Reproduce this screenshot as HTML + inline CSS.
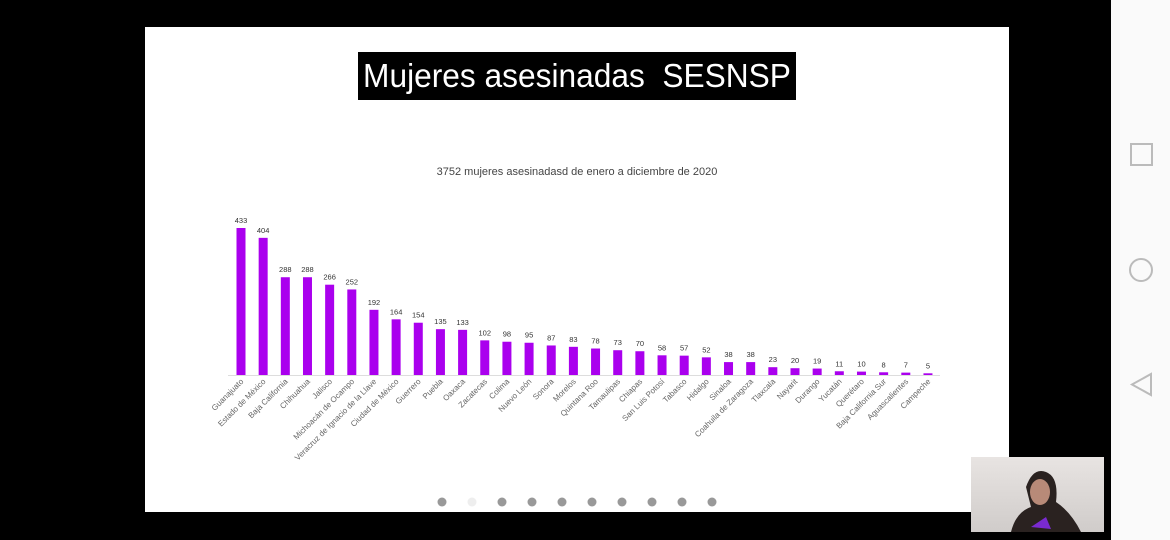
<!DOCTYPE html>
<html><head><meta charset="utf-8"><style>
html,body{margin:0;width:1170px;height:540px;overflow:hidden}
body{background:#000;position:relative;font-family:"Liberation Sans",sans-serif}
#slide{position:absolute;left:145px;top:27px;width:864px;height:485px;background:#fff}
#title{position:absolute;left:358px;top:52px;width:438px;height:48px;background:#000;color:#fff;font-size:33px;line-height:48px;white-space:nowrap}
#title span{position:absolute;left:50%;top:0;transform:translateX(-50%) scaleX(0.96);white-space:nowrap}
#nav{position:absolute;left:1111px;top:0;width:59px;height:540px;background:#fafafa}
#cam{position:absolute;left:971px;top:457px;width:133px;height:75px;background:linear-gradient(#e8e4e2,#d0ccca)}
</style></head><body>
<div id="slide"></div>
<div id="title"><span>Mujeres asesinadas &nbsp;SESNSP</span></div>
<svg id="chart" width="1170" height="540" style="position:absolute;left:0;top:0">
<text x="577" y="175" font-size="11" fill="#444" text-anchor="middle">3752 mujeres asesinadasd de enero a diciembre de 2020</text>
<line x1="228" y1="375.5" x2="940" y2="375.5" stroke="#ddd"/>
</svg>
<div id="nav">
<svg width="59" height="540">
<rect x="20" y="144" width="21" height="21" fill="none" stroke="#bbb" stroke-width="2"/>
<circle cx="30" cy="270" r="11" fill="none" stroke="#bbb" stroke-width="2"/>
<polygon points="40,374 40,395 21,384.5" fill="none" stroke="#bbb" stroke-width="2"/>
</svg></div>
<div id="cam">
<svg width="133" height="75"><path d="M40 75 Q45 55 60 50 L55 30 Q62 10 75 15 Q88 20 85 45 Q100 55 110 75Z" fill="#2a2220"/><ellipse cx="69" cy="35" rx="10" ry="13" fill="#b88a78"/><path d="M60 70 L75 60 L80 72Z" fill="#7a2ad0"/></svg></div>
<svg width="1170" height="540" style="position:absolute;left:0;top:0;pointer-events:none">
<g id="dots"></g></svg>
<script>
const categories=["Guanajuato","Estado de México","Baja California","Chihuahua","Jalisco","Michoacán de Ocampo","Veracruz de Ignacio de la Llave","Ciudad de México","Guerrero","Puebla","Oaxaca","Zacatecas","Colima","Nuevo León","Sonora","Morelos","Quintana Roo","Tamaulipas","Chiapas","San Luis Potosí","Tabasco","Hidalgo","Sinaloa","Coahuila de Zaragoza","Tlaxcala","Nayarit","Durango","Yucatán","Querétaro","Baja California Sur","Aguascalientes","Campeche"];
const values=[433,404,288,288,266,252,192,164,154,135,133,102,98,95,87,83,78,73,70,58,57,52,38,38,23,20,19,11,10,8,7,5];
const NS="http://www.w3.org/2000/svg";
const svg=document.getElementById('chart');
const x0=241,step=22.16,base=375,k=147/433;
const xs=i=>x0+i*step, ys=v=>base-v*k;
values.forEach((v,i)=>{
 const r=document.createElementNS(NS,'rect');
 r.setAttribute('x',xs(i)-4.5);r.setAttribute('width',9);
 r.setAttribute('y',ys(v));r.setAttribute('height',base-ys(v));r.setAttribute('fill','#aa00ee');
 
 
 svg.appendChild(r);
 const t=document.createElementNS(NS,'text');
 t.setAttribute('x',xs(i));t.setAttribute('y',ys(v)-5);t.setAttribute('font-size','7.5');t.setAttribute('fill','#333');t.setAttribute('text-anchor','middle');
 t.textContent=v;
 
 
 svg.appendChild(t);
 const l=document.createElementNS(NS,'text');
 l.setAttribute('transform','translate('+(xs(i)+3)+',382) rotate(-45)');
 l.setAttribute('font-size','8');l.setAttribute('fill','#666');l.setAttribute('text-anchor','end');
 l.textContent=categories[i];
 
 
 svg.appendChild(l);
});
const dots=document.getElementById('dots');
for(let i=0;i<10;i++){
 const c=document.createElementNS(NS,'circle');
 c.setAttribute('cx',442+i*30);c.setAttribute('cy',502);c.setAttribute('r',4.5);
 c.setAttribute('fill',i==1?'#eee':'#999');
 
 
 dots.appendChild(c);
}
</script>
</body></html>
